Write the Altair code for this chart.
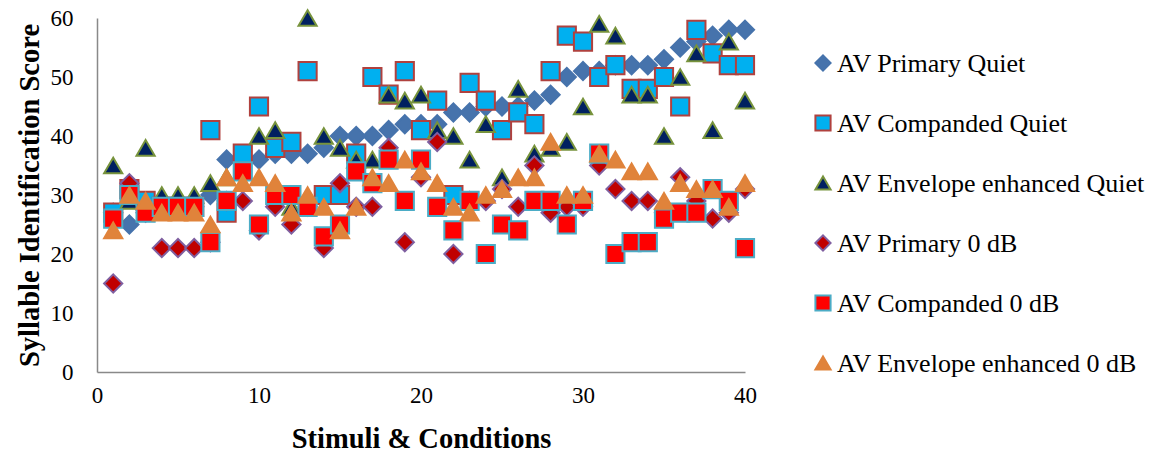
import altair as alt
import pandas as pd

stimuli = list(range(1, 41))
series_names = [
    "AV Primary Quiet",
    "AV Companded Quiet",
    "AV Envelope enhanced Quiet",
    "AV Primary 0 dB",
    "AV Companded 0 dB",
    "AV Envelope enhanced 0 dB",
]
primary_quiet = [27, 25, 28, 28, 28, 28, 30, 36, 36, 36, 37, 37, 37, 38, 40, 40, 40, 41, 42, 42,
                 42, 44, 44, 45, 45, 45, 46, 47, 50, 51, 51, 52, 52, 52, 53, 55, 56, 57, 58, 58]
companded_quiet = [27, 31, 29, 28, 28, 28, 41, 27, 37, 45, 38, 39, 51, 30, 30, 37, 50, 47, 51, 41,
                   46, 30, 49, 46, 41, 44, 42, 51, 57, 56, 50, 52, 48, 48, 50, 45, 58, 54, 52, 52]
envelope_quiet = [35, 29, 38, 30, 30, 30, 32, 33, 34, 40, 41, 28, 60, 40, 38, 36, 36, 47, 46, 47,
                  41, 40, 36, 42, 33, 48, 37, 38, 39, 45, 59, 57, 47, 47, 40, 50, 54, 41, 56, 46]
primary_0db = [15, 32, 27, 21, 21, 21, 22, 29, 29, 24, 28, 25, 28, 21, 32, 28, 28, 38, 22, 33,
               39, 20, 29, 29, 31, 28, 35, 27, 28, 28, 35, 31, 29, 29, 27, 33, 29, 26, 27, 31]
companded_0db = [26, 30, 27, 28, 28, 28, 22, 29, 34, 25, 30, 30, 28, 23, 25, 34, 32, 36, 29, 36,
                 28, 24, 29, 20, 25, 24, 29, 29, 25, 29, 37, 20, 22, 22, 26, 27, 27, 31, 29, 21]
envelope_0db = [24, 30, 29, 27, 27, 27, 25, 33, 32, 33, 32, 27, 30, 28, 24, 28, 33, 32, 36, 34,
                32, 28, 27, 30, 31, 33, 33, 39, 30, 30, 37, 36, 34, 34, 29, 32, 31, 31, 28, 32]

all_values = [primary_quiet, companded_quiet, envelope_quiet, primary_0db, companded_0db, envelope_0db]

fills = ["#4673AC", "#00B0F0", "#002060", "#C00000", "#FF0000", "#E0833B"]
strokes = ["#4673AC", "#B0413E", "#77933C", "#7F5FA0", "#4BACC6", "#E0833B"]
shapes = ["diamond", "square", "triangle-up", "diamond", "square", "triangle-up"]

rows = []
for name, vals in zip(series_names, all_values):
    for s, v in zip(stimuli, vals):
        rows.append({"stimulus": s, "score": v, "series": name})
df = pd.DataFrame(rows)
legend_df = pd.DataFrame({"series": series_names})

FONT = "Liberation Serif"

fill_enc = alt.Fill("series:N", scale=alt.Scale(domain=series_names, range=fills), legend=None)
stroke_enc = alt.Stroke("series:N", scale=alt.Scale(domain=series_names, range=strokes), legend=None)
shape_enc = alt.Shape("series:N", scale=alt.Scale(domain=series_names, range=shapes), legend=None)

main = alt.Chart(df).mark_point(filled=True, opacity=1, strokeWidth=2, size=330).encode(
    x=alt.X("stimulus:Q", scale=alt.Scale(domain=[0, 40], nice=False),
            axis=alt.Axis(values=[0, 10, 20, 30, 40], title="Stimuli & Conditions", grid=False,
                          ticks=False, tickSize=0, labelPadding=12, titlePadding=17,
                          labelFlush=False)),
    y=alt.Y("score:Q", scale=alt.Scale(domain=[0, 60], nice=False),
            axis=alt.Axis(values=[0, 10, 20, 30, 40, 50, 60], title="Syllable Identification Score",
                          grid=False, ticks=False, tickSize=0, labelPadding=24, titlePadding=6,
                          labelFlush=False)),
    fill=fill_enc, stroke=stroke_enc, shape=shape_enc,
)

legend_y = alt.Y("series:N", sort=series_names,
                 scale=alt.Scale(domain=series_names, range=[45, 345], padding=0), axis=None)

legend_pts = alt.Chart(legend_df).mark_point(filled=True, opacity=1, strokeWidth=2, size=230).encode(
    x=alt.value(726), y=legend_y, fill=fill_enc, stroke=stroke_enc, shape=shape_enc,
)

legend_txt = alt.Chart(legend_df).mark_text(
    align="left", baseline="middle", font=FONT, fontSize=26, color="#000000", dy=1
).encode(
    x=alt.value(740), y=legend_y, text="series:N",
)

chart = alt.layer(main, legend_pts, legend_txt).resolve_scale(
    y="independent"
).properties(
    width=648,
    height=354,
    autosize=alt.AutoSizeParams(type="none"),
    padding={"left": 97, "top": 18, "right": 428, "bottom": 87},
).configure(
    font=FONT,
).configure_view(
    stroke=None
).configure_axis(
    labelFont=FONT, labelFontSize=23, labelColor="#000000",
    titleFont=FONT, titleFontSize=28.5, titleFontWeight="bold", titleColor="#000000",
    domainColor="#898989", domainWidth=1.5,
)

chart.save("out.html", embed_options={"renderer": "svg", "actions": False})
